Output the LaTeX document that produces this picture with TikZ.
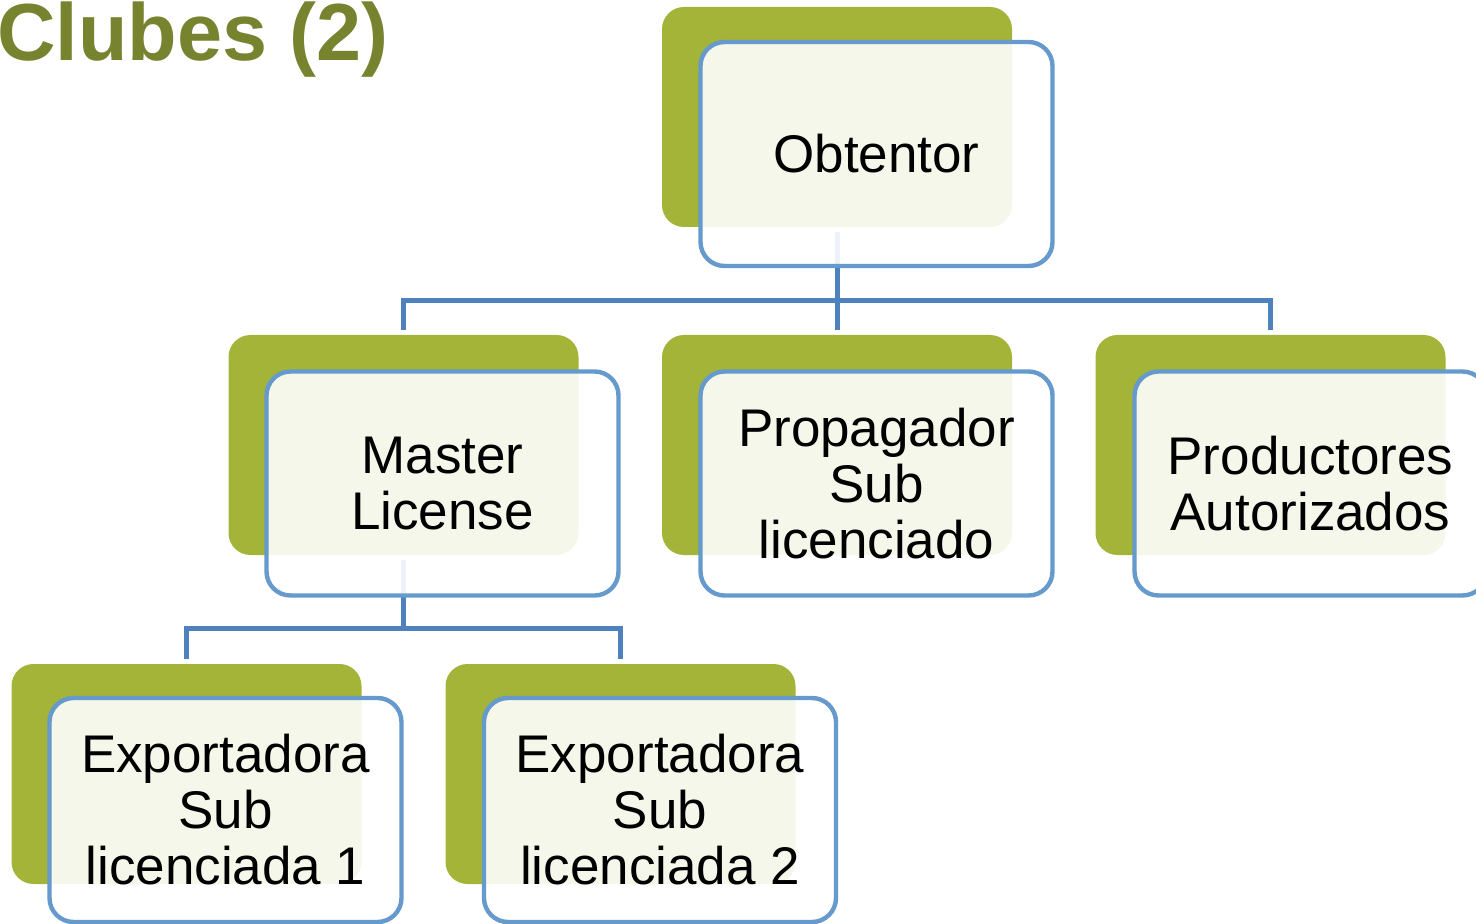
\documentclass[tikz,border=0pt]{standalone}
\usepackage{fontspec}
\setmainfont{Liberation Sans}
\definecolor{clubgreen}{HTML}{A3B438}
\definecolor{titlegreen}{HTML}{77832F}
\definecolor{boxblue}{HTML}{6699CC}
\definecolor{linkblue}{HTML}{4F81BD}
\tikzset{
  back/.style={fill=clubgreen, rounded corners=11pt, minimum width=175pt, minimum height=110pt, inner sep=0pt},
  front/.style={draw=boxblue, line width=2.2pt, fill=white, fill opacity=0.9, text opacity=1,
    rounded corners=12pt, minimum width=176pt, minimum height=112pt, inner sep=0pt,
    align=center, font=\fontsize{26.5}{28}\selectfont},
  conn/.style={draw=linkblue, line width=2.5pt, shorten <=2.5pt, shorten >=2.5pt}
}

\begin{document}
\begin{tikzpicture}[x=0.5pt,y=-0.5pt]
\useasboundingbox (0,0) rectangle (1476,924);
\node[anchor=base west, text=titlegreen, font=\fontsize{40.5}{40.5}\selectfont\bfseries] (title) at (-10,61) {Clubes (2)};
% green back boxes
\node[back] (obtbg) at (837,117) {};
\node[back] (mastbg) at (403.5,445) {};
\node[back] (propbg) at (837,445) {};
\node[back] (prodbg) at (1270.5,445) {};
\node[back] (expAbg) at (186.5,774) {};
\node[back] (expBbg) at (620.5,774) {};
% links
\foreach \c in {mastbg,propbg,prodbg}
  \draw[conn] (obtbg.south) -- ++(0,73) -| (\c.north);
\foreach \c in {expAbg,expBbg}
  \draw[conn] (mastbg.south) -- ++(0,73) -| (\c.north);
% front boxes
\node[front] (obt) at (876.5,154) {Obtentor};
\node[front] (mast) at (442.5,483.5) {Master\\License};
\node[front] (prop) at (876.5,483.5) {Propagador\\Sub\\licenciado};
\node[front] (prod) at (1310.5,483.5) {Productores\\Autorizados};
\node[front] (expA) at (225.5,810) {Exportadora\\Sub\\licenciada 1};
\node[front] (expB) at (660,810) {Exportadora\\Sub\\licenciada 2};
\end{tikzpicture}
\end{document}
